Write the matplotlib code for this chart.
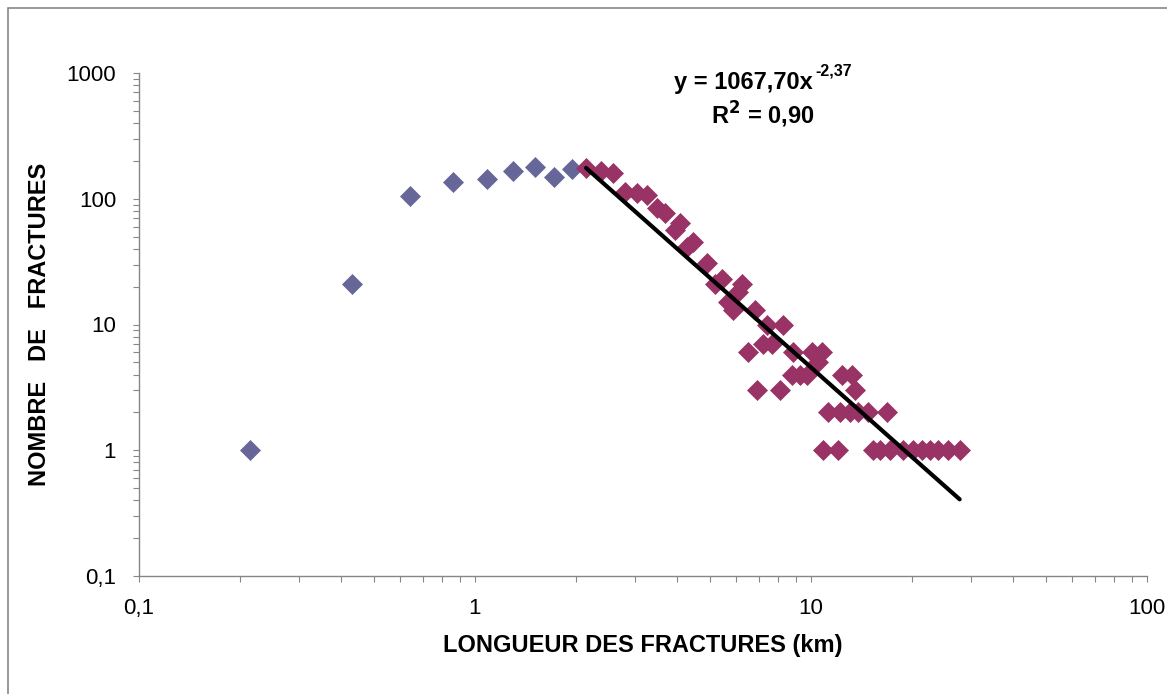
import numpy as np
import matplotlib.pyplot as plt
from matplotlib.patches import Rectangle
from matplotlib.ticker import FixedLocator, FuncFormatter, NullFormatter

plt.rcParams['font.family'] = ['Liberation Sans', 'DejaVu Sans']

# ── données ──────────────────────────────────────────────────────────────
# classes courtes (bleu) : non prises dans l'ajustement
long_courtes = [0.214, 0.431, 0.640, 0.858, 1.083, 1.295, 1.509, 1.715, 1.944]
nb_courtes = [1, 21, 105, 135, 143, 166, 178, 148, 172]

# classes longues (bordeaux) : ajustement loi puissance
long_longues = [2.14, 2.37, 2.575, 2.795, 3.03, 3.25, 3.47, 3.68, 3.94, 4.07,
                4.27, 4.45, 4.89, 5.18, 5.42, 5.67, 5.87, 6.08, 6.22, 6.51,
                6.81, 6.89, 7.21, 7.38, 7.64, 8.09, 8.27, 8.76, 8.86, 9.27,
                9.71, 10.05, 10.5, 10.76, 10.88, 11.26, 12.05, 12.2, 12.34, 13.06,
                13.22, 13.52, 13.83, 14.81, 15.33, 16.04, 16.8, 17.19, 18.83, 20.16,
                21.36, 22.6, 23.9, 25.6, 27.7]
nb_longues = [175, 165, 159, 114, 112, 107, 84, 77, 56, 64,
              41, 45, 31, 21, 23, 15, 13, 18, 21, 6,
              13, 3, 7, 10, 7, 3, 10, 4, 6, 4,
              4, 6, 5, 6, 1, 2, 1, 2, 4, 2,
              4, 3, 2, 2, 1, 1, 2, 1, 1, 1,
              1, 1, 1, 1, 1]

# courbe de tendance affichée : y = a * x^b
coef_a = 1067.70
expo_b = -2.37
r2 = 0.90

x_ticks = [0.1, 1, 10, 100]
y_ticks = [0.1, 1, 10, 100, 1000]

bleu = '#666699'
bordeaux = '#993366'
gris = '#868686'


def virgule(v, nd=2):
    return ('%.*f' % (nd, v)).replace('.', ',')


# ── figure ───────────────────────────────────────────────────────────────
W, H = 1167, 694
fig = plt.figure(figsize=(W / 100, H / 100), dpi=100)
ax = fig.add_axes([139 / W, 1 - 576 / H, (1147 - 139) / W, (576 - 73) / H])

# cadre extérieur (zone de graphique Excel)
fig.patches.append(Rectangle((8 / W, -0.1), 1.2, 1 - 8 / H + 0.1,
                             transform=fig.transFigure, fill=False,
                             edgecolor=gris, linewidth=1.2))

ax.plot(long_courtes, nb_courtes, linestyle='none', marker='D', ms=10,
        color=bleu, mec=bleu, mew=0.5, zorder=3)
ax.plot(long_longues, nb_longues, linestyle='none', marker='D', ms=10,
        color=bordeaux, mec=bordeaux, mew=0.5, zorder=3)

xt = np.logspace(np.log10(long_longues[0]), np.log10(long_longues[-1]), 200)
ax.plot(xt, coef_a * xt ** expo_b, color='black', lw=3, zorder=4,
        solid_capstyle='round')

ax.set_xscale('log')
ax.set_yscale('log')
ax.set_xlim(0.1, 100)
ax.set_ylim(0.1, 1000)

fmt = FuncFormatter(lambda v, p: ('%g' % v).replace('.', ','))
ax.xaxis.set_major_locator(FixedLocator(x_ticks))
ax.yaxis.set_major_locator(FixedLocator(y_ticks))
ax.xaxis.set_major_formatter(fmt)
ax.yaxis.set_major_formatter(fmt)
ax.xaxis.set_minor_formatter(NullFormatter())
ax.yaxis.set_minor_formatter(NullFormatter())

for s in ['top', 'right']:
    ax.spines[s].set_visible(False)
for s in ['left', 'bottom']:
    ax.spines[s].set_color(gris)
    ax.spines[s].set_linewidth(1.0)

ax.tick_params(which='both', direction='out', length=4.5, width=0.8,
               color=gris, labelsize=16)
ax.tick_params(axis='x', pad=11)
ax.tick_params(axis='y', pad=12)

ax.set_xlabel('LONGUEUR DES FRACTURES (km)', fontsize=17, fontweight='bold',
              labelpad=11)
ax.set_ylabel('NOMBRE   DE   FRACTURES', fontsize=17, fontweight='bold',
              labelpad=11)

# équation et R² de la courbe de tendance
fig.text(813 / W, 1 - 82 / H, 'y = ' + virgule(coef_a) + 'x', fontsize=17,
         fontweight='bold', ha='right', va='center')
fig.text(815 / W, 1 - 71 / H, virgule(expo_b), fontsize=11.5,
         fontweight='bold', ha='left', va='center')
fig.text(763 / W, 1 - 115 / H, 'R$^\\mathbf{2}$ = ' + virgule(r2),
         fontsize=17, fontweight='bold', ha='center', va='center')

fig.savefig('out.png', dpi=100)
